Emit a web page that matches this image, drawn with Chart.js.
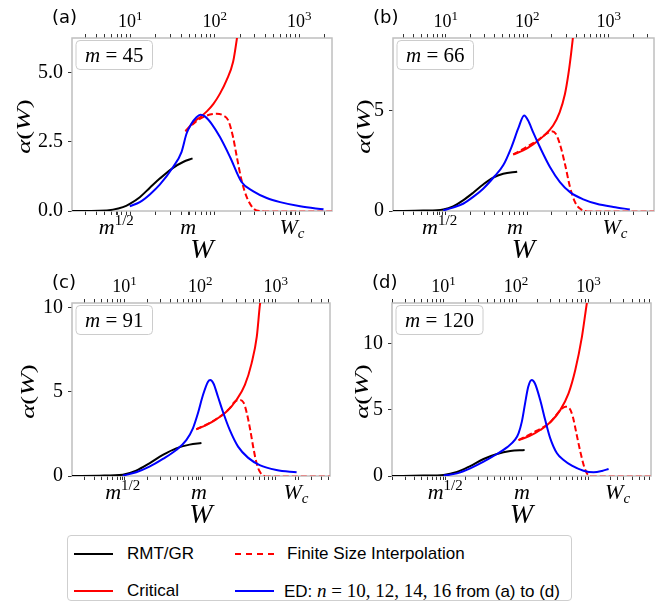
<!DOCTYPE html>
<html>
<head>
<meta charset="utf-8">
<script src="https://cdn.jsdelivr.net/npm/chart.js@4.4.1/dist/chart.umd.min.js"></script>
<style>
  body { margin: 0; background: #fff; }
  #wrap { position: relative; width: 669px; height: 602px; overflow: hidden; }
  #wrap canvas { position: absolute; }
  #legend {
    position: absolute; left: 67px; top: 535px; width: 505px; height: 66px;
    border: 1px solid #cfcfcf; border-radius: 4px; box-sizing: border-box;
    font: 17px "Liberation Sans", sans-serif; color: #000;
  }
  #legend .swatch { position: absolute; height: 0; width: 39px; border-top: 2px solid #000; }
  #legend .txt { position: absolute; line-height: 20px; white-space: nowrap; }
  #legend .math { font-family: "Liberation Serif", serif; font-size: 19px; }
</style>
</head>
<body>
<div id="wrap">
  <canvas id="pa"></canvas>
  <canvas id="pb"></canvas>
  <canvas id="pc"></canvas>
  <canvas id="pd"></canvas>
  <div id="legend">
    <div class="swatch" style="left:6px;top:17px;border-color:#000"></div>
    <div class="txt" style="left:59px;top:8px">RMT/GR</div>
    <div class="swatch" style="left:6px;top:54px;border-color:#ff0000"></div>
    <div class="txt" style="left:59px;top:45px">Critical</div>
    <div class="swatch" style="left:167px;top:17px;border-top:2px dashed #ff0000"></div>
    <div class="txt" style="left:219px;top:8px">Finite Size Interpolation</div>
    <div class="swatch" style="left:167px;top:54px;border-color:#0000ff"></div>
    <div class="txt" style="left:216px;top:45px">ED: <span class="math"><i>n</i> = 10, 12, 14, 16</span> from (a) to (d)</div>
  </div>
</div>
<script>
// ---- values (W, alpha) per panel ----
const panelLetters = ['(a)', '(b)', '(c)', '(d)'];
const mValues = [45, 66, 91, 120];
const xMin = [2.05, 2.25, 2.03, 1.94];
const xMax = [2445, 3600, 5190, 7260];
const yMax = [6.25, 8.6, 10.26, 13.05];
const yTickValues = [[0, 2.5, 5], [0, 5], [0, 5, 10], [0, 5, 10]];
const yTickDigits = [1, 0, 0, 0];
const topTickValues = [10, 100, 1000];
const topTickExponents = ['1', '2', '3'];
// bottom ticks sit at m^(1/2), m and W_c
const bottomTickValues = [[6.85, 48.5, 820], [8.4, 70.5, 1195], [9.5, 96.4, 1840], [10.5, 120.5, 2510]];

const rmtA = [[2.06, 0], [4.35, 0.01], [6.25, 0.05], [8.2, 0.14], [9.9, 0.26], [13, 0.5], [17.1, 0.84], [22.4, 1.17], [32.2, 1.56], [42.3, 1.77], [54.7, 1.9]];
const critA = [[45.1, 2.88], [56.2, 3.21], [67.3, 3.39], [80.8, 3.6], [96.7, 3.87], [115.5, 4.24], [138, 4.72], [165, 5.38], [183, 6.22], [192, 6.7]];
const interpA = [[45.1, 2.88], [61, 3.25], [81, 3.45], [106, 3.51], [127, 3.45], [145, 3.27], [165, 2.67], [183, 1.95], [208, 1.11], [239, 0.51], [274, 0.17], [313, 0.02], [376, 0], [2445, 0]];
const edA = [[9.9, 0.17], [13, 0.32], [17.1, 0.6], [22.4, 0.95], [32.2, 1.59], [40.5, 2.13], [46.4, 2.79], [53, 3.15], [60.9, 3.39], [67.9, 3.48], [76.6, 3.42], [92, 3.15], [115.5, 2.67], [152, 1.95], [208, 1.05], [287, 0.71], [413, 0.47], [595, 0.32], [1027, 0.17], [1940, 0.06]];

const rmtB = [[2.25, 0], [5.3, 0.02], [9.3, 0.08], [12.3, 0.23], [16.3, 0.53], [21.7, 0.91], [28.8, 1.32], [38.2, 1.66], [50.7, 1.85], [75.3, 1.95]];
const critB = [[67.3, 2.81], [89.3, 3.01], [118, 3.31], [157, 3.71], [208, 4.25], [250, 4.9], [290, 5.8], [320, 6.8], [345, 7.8], [368, 8.8]];
const interpB = [[67.3, 2.81], [97.9, 3.18], [130, 3.48], [173, 3.84], [199, 3.96], [224, 3.84], [251, 3.34], [290, 2.35], [335, 1.19], [385, 0.45], [444, 0.12], [534, 0], [3605, 0]];
const edB = [[9.3, 0.03], [12.3, 0.17], [16.3, 0.36], [21.7, 0.7], [28.8, 1.11], [40, 1.74], [50.7, 2.27], [64.1, 3.18], [77.4, 4.09], [91.7, 4.75], [102.6, 4.5], [118, 3.92], [143, 3.18], [190, 2.19], [252, 1.44], [335, 0.94], [488, 0.58], [712, 0.36], [1137, 0.2], [1819, 0.08]];

const rmtC = [[2.03, 0], [4.67, 0.02], [9.5, 0.08], [14.3, 0.32], [21.4, 0.75], [32.2, 1.25], [48.3, 1.64], [72.6, 1.86], [104, 1.96]];
const critC = [[89, 2.77], [120, 3.02], [163, 3.36], [222, 3.81], [302, 4.51], [390, 5.4], [478, 6.68], [560, 8.26], [612, 10.04], [627, 10.43]];
const interpC = [[89, 2.77], [148, 3.26], [246, 4.01], [286, 4.41], [333, 4.51], [375, 4.35], [414, 3.72], [459, 2.73], [506, 1.64], [557, 0.75], [612, 0.26], [715, 0], [5190, 0]];
const edC = [[9.5, 0.02], [14.3, 0.22], [21.4, 0.55], [32.2, 1.01], [48.3, 1.54], [65.6, 2.13], [80.3, 2.83], [93.5, 3.72], [109, 4.8], [127, 5.59], [136, 5.69], [150, 5.49], [172, 4.7], [200, 3.81], [246, 2.73], [317, 1.74], [428, 1.09], [612, 0.65], [1016, 0.36], [1880, 0.22]];

const rmtD = [[1.94, 0], [5.3, 0.03], [10, 0.08], [15.3, 0.3], [23.3, 0.75], [35.6, 1.28], [54.4, 1.66], [83.1, 1.88], [131, 1.96]];
const critD = [[108, 2.71], [157, 3.04], [215, 3.47], [296, 4.05], [406, 4.97], [529, 6.23], [655, 7.99], [809, 10.5], [948, 13.07], [999, 13.8]];
const interpD = [[108, 2.71], [193, 3.42], [296, 4.05], [406, 4.95], [476, 5.23], [545, 5.1], [606, 4.47], [679, 3.22], [769, 1.83], [869, 0.7], [961, 0.15], [1070, 0], [7260, 0]];
const edD = [[10, 0.03], [15.3, 0.2], [23.3, 0.58], [35.6, 1.08], [54.4, 1.66], [74.7, 2.16], [97.4, 2.76], [108, 3.22], [120, 4.1], [133, 5.48], [147, 6.73], [164, 7.24], [182, 6.98], [215, 5.73], [252, 4.22], [296, 2.84], [366, 1.71], [452, 1.21], [588, 0.78], [851, 0.4], [1171, 0.28], [1532, 0.38], [1888, 0.53]];

const rmtCurves = [rmtA, rmtB, rmtC, rmtD];
const critCurves = [critA, critB, critC, critD];
const interpCurves = [interpA, interpB, interpC, interpD];
const edCurves = [edA, edB, edC, edD];

// ---- page layout for the four panels ----
const canvasIds = ['pa', 'pb', 'pc', 'pd'];
const boxes = [
  { left: 0, top: 0, width: 334, height: 266, yTitleX: 25 },
  { left: 321, top: 0, width: 335, height: 266, yTitleX: 44 },
  { left: 0, top: 265, width: 332, height: 266, yTitleX: 29 },
  { left: 320, top: 265, width: 333, height: 266, yTitleX: 43 }
];

const SERIF = '"Liberation Serif", "DejaVu Serif", serif';
const SPINE = '#bfbfbf';
const TICK = '#333';

function logTicks(lo, hi) {
  const out = [];
  for (let e = 0; e <= 4; e++) {
    for (let k = 1; k < 10; k++) {
      const v = k * Math.pow(10, e);
      if (v >= lo && v <= hi) out.push(v);
    }
  }
  return out;
}

// draws a row of text pieces, each with its own font and vertical shift
function drawPieces(ctx, pieces, x0, baseline, align) {
  let total = 0;
  pieces.forEach(p => { ctx.font = p.font; p.w = ctx.measureText(p.t).width; total += p.w; });
  let x = align === 'left' ? x0 : x0 - total / 2;
  ctx.textAlign = 'left';
  ctx.textBaseline = 'alphabetic';
  pieces.forEach(p => {
    ctx.font = p.font;
    ctx.fillText(p.t, x, baseline + (p.dy || 0));
    x += p.w;
  });
  return total;
}

const decor = {
  id: 'decor',
  beforeDatasetsDraw(chart) {
    const { ctx, chartArea: ca } = chart;
    ctx.save();
    ctx.strokeStyle = SPINE;
    ctx.lineWidth = 1.5;
    ctx.strokeRect(ca.left, ca.top, ca.right - ca.left, ca.bottom - ca.top);
    ctx.restore();
  },
  afterDraw(chart, args, opts) {
    const { ctx, chartArea: ca } = chart;
    const xs = chart.scales.x;
    ctx.save();
    ctx.fillStyle = '#000';

    // panel letter
    ctx.font = '18px "DejaVu Sans", sans-serif';
    ctx.textAlign = 'left';
    ctx.textBaseline = 'middle';
    ctx.fillText(opts.letter, ca.left - 20, ca.top - 20);

    // m = ... box
    const pieces = [
      { t: 'm', font: 'italic 21px ' + SERIF },
      { t: ' = ' + opts.m, font: '21px ' + SERIF }
    ];
    let tw = 0;
    pieces.forEach(p => { ctx.font = p.font; tw += ctx.measureText(p.t).width; });
    const bx = ca.left + 4, by = ca.top + 2.5, bw = tw + 18, bh = 29;
    ctx.beginPath();
    ctx.roundRect(bx, by, bw, bh, 4);
    ctx.fillStyle = 'rgba(255,255,255,0.85)';
    ctx.fill();
    ctx.strokeStyle = '#cccccc';
    ctx.lineWidth = 1;
    ctx.stroke();
    ctx.fillStyle = '#000';
    drawPieces(ctx, pieces, bx + 9, by + 21, 'left');

    // top decade labels 10^k
    topTickValues.forEach((v, k) => {
      drawPieces(ctx, [
        { t: '10', font: '18px ' + SERIF },
        { t: topTickExponents[k], font: '13px ' + SERIF, dy: -7 }
      ], chart.scales.xTop.getPixelForValue(v), ca.top - 11.5, 'center');
    });

    // bottom tick labels m^{1/2}, m, W_c
    const labels = [
      [{ t: 'm', font: 'italic 22px ' + SERIF }, { t: '1/2', font: '15px ' + SERIF, dy: -9 }],
      [{ t: 'm', font: 'italic 22px ' + SERIF }],
      [{ t: 'W', font: 'italic 22px ' + SERIF }, { t: 'c', font: 'italic 15px ' + SERIF, dy: 4 }]
    ];
    opts.ticks.forEach((v, k) => {
      drawPieces(ctx, labels[k], xs.getPixelForValue(v), ca.bottom + 22.5, 'center');
    });

    // axis titles
    drawPieces(ctx, [{ t: 'W', font: 'italic 28px ' + SERIF }], (ca.left + ca.right) / 2, ca.bottom + 47, 'center');

    ctx.translate(opts.yTitleX, (ca.top + ca.bottom) / 2 + 2);
    ctx.rotate(-Math.PI / 2);
    ctx.scale(1, 0.72);
    drawPieces(ctx, [
      { t: 'α', font: 'italic 27px ' + SERIF },
      { t: '(', font: '27px ' + SERIF },
      { t: 'W', font: 'italic 27px ' + SERIF },
      { t: ')', font: '27px ' + SERIF }
    ], 0, 6.7, 'center');
    ctx.restore();
  }
};

function makePanel(i) {
  const b = boxes[i];
  const cv = document.getElementById(canvasIds[i]);
  cv.width = b.width;
  cv.height = b.height;
  cv.style.left = b.left + 'px';
  cv.style.top = b.top + 'px';

  const line = (label, pts, color, dash, zeroColor) => ({
    label,
    data: pts.map(p => ({ x: p[0], y: p[1] })),
    borderColor: color,
    borderWidth: 2,
    borderDash: dash,
    pointRadius: 0,
    fill: false,
    cubicInterpolationMode: 'monotone',
    segment: zeroColor ? {
      borderColor: c => (c.p0.parsed.y === 0 && c.p1.parsed.y === 0 ? zeroColor : undefined)
    } : undefined
  });

  const tickGrid = { drawOnChartArea: false, drawTicks: true, tickLength: 4, tickColor: TICK, tickWidth: 1 };

  new Chart(cv, {
    type: 'line',
    data: {
      datasets: [
        line('ED', edCurves[i], '#0000ff', []),
        line('Finite Size Interpolation', interpCurves[i], '#ff0000', [6, 3], 'rgba(255,60,60,0.45)'),
        line('Critical', critCurves[i], '#ff0000', []),
        line('RMT/GR', rmtCurves[i], '#000000', [])
      ]
    },
    options: {
      responsive: false,
      animation: false,
      devicePixelRatio: 1,
      layout: { padding: { left: 0, right: 2, top: 0, bottom: 0 } },
      plugins: {
        legend: { display: false },
        tooltip: { enabled: false },
        decor: { letter: panelLetters[i], m: mValues[i], ticks: bottomTickValues[i], yTitleX: b.yTitleX }
      },
      scales: {
        x: {
          type: 'logarithmic',
          position: 'bottom',
          min: xMin[i],
          max: xMax[i],
          grid: tickGrid,
          border: { display: false },
          ticks: { display: false },
          afterBuildTicks: s => {
            const vals = logTicks(xMin[i], xMax[i]).concat(bottomTickValues[i]).sort((a, c) => a - c);
            s.ticks = vals.map(v => ({ value: v }));
          },
          afterFit: s => { s.height = 55; }
        },
        xTop: {
          type: 'logarithmic',
          position: 'top',
          min: xMin[i],
          max: xMax[i],
          grid: tickGrid,
          border: { display: false },
          ticks: { display: false },
          afterBuildTicks: s => { s.ticks = logTicks(xMin[i], xMax[i]).map(v => ({ value: v })); },
          afterFit: s => { s.height = 38; }
        },
        y: {
          type: 'linear',
          min: 0,
          max: yMax[i],
          grid: tickGrid,
          border: { display: false },
          afterBuildTicks: s => { s.ticks = yTickValues[i].map(v => ({ value: v })); },
          ticks: {
            padding: 5, color: '#000', font: { family: SERIF, size: 20 },
            callback: v => v.toFixed(yTickDigits[i])
          },
          afterFit: s => { s.width = 72; }
        }
      }
    },
    plugins: [decor]
  });
}

for (let i = 0; i < 4; i++) makePanel(i);
</script>
</body>
</html>
